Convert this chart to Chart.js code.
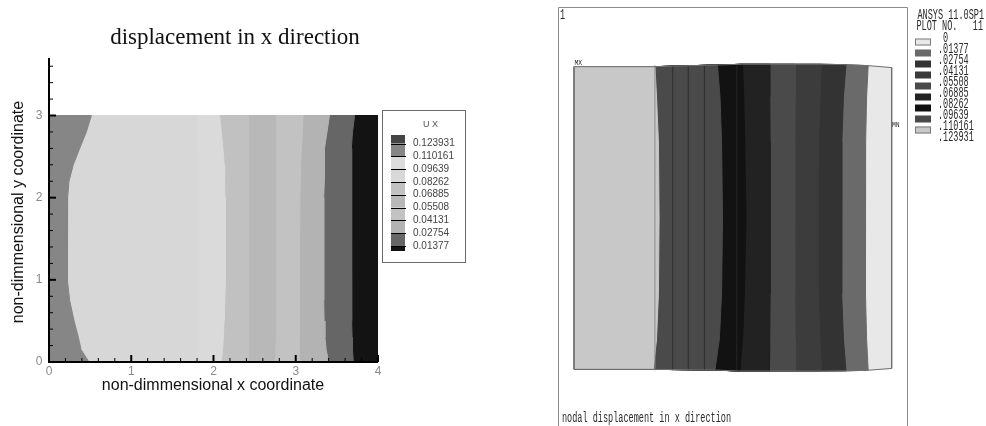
<!DOCTYPE html>
<html>
<head>
<meta charset="utf-8">
<script src="https://cdn.jsdelivr.net/npm/chart.js@4.4.0/dist/chart.umd.min.js"></script>
<style>
  html, body { margin: 0; padding: 0; background: #fff; }
  #wrap { position: relative; width: 986px; height: 426px; overflow: hidden; }
  canvas { position: absolute; top: 0; }
  #leftChart { left: 0; }
  #rightChart { left: 540px; }
</style>
</head>
<body>
<div id="wrap">
  <canvas id="leftChart" width="540" height="426"></canvas>
  <canvas id="rightChart" width="446" height="426"></canvas>
</div>
<script>
// ---------- left plot: contour of ux ----------
const leftTitle = 'displacement in x direction';
const xAxisTitle = 'non-dimmensional x coordinate';
const yAxisTitle = 'non-dimmensional y coordinate';
const xTickLabels = [0, 1, 2, 3, 4];
const yTickLabels = [0, 1, 2, 3];

// y levels where the contour edges are sampled
const yLevels = [0, 0.15, 0.3, 0.5, 0.75, 1, 1.5, 2, 2.2, 2.4, 2.6, 2.8, 3];
// x position of each contour edge at those levels (left to right)
const edge0 = [0, 0, 0, 0, 0, 0, 0, 0, 0, 0, 0, 0, 0];
const edge1 = [0.486, 0.39, 0.357, 0.305, 0.251, 0.225, 0.222, 0.227, 0.243, 0.295, 0.373, 0.454, 0.515];
const edge2 = [1.80, 1.80, 1.80, 1.81, 1.81, 1.81, 1.81, 1.81, 1.80, 1.80, 1.79, 1.79, 1.79];
const edge3 = [2.095, 2.11, 2.12, 2.128, 2.138, 2.144, 2.145, 2.14, 2.135, 2.13, 2.115, 2.095, 2.075];
const edge4 = [2.42, 2.42, 2.425, 2.43, 2.43, 2.43, 2.43, 2.43, 2.43, 2.43, 2.425, 2.42, 2.42];
const edge5 = [2.74, 2.745, 2.75, 2.755, 2.755, 2.755, 2.755, 2.755, 2.755, 2.755, 2.755, 2.755, 2.756];
const edge6 = [3.04, 3.04, 3.04, 3.04, 3.04, 3.04, 3.045, 3.05, 3.055, 3.06, 3.07, 3.08, 3.088];
const edge7 = [3.40, 3.37, 3.355, 3.345, 3.34, 3.34, 3.34, 3.34, 3.345, 3.35, 3.35, 3.38, 3.41];
const edge8 = [3.70, 3.69, 3.685, 3.68, 3.68, 3.68, 3.68, 3.68, 3.68, 3.68, 3.676, 3.69, 3.716];
const edge9 = [4, 4, 4, 4, 4, 4, 4, 4, 4, 4, 4, 4, 4];
const bandColors = ['#868686', '#d7d7d7', '#dadada', '#c1c1c1', '#b8b8b8', '#c2c2c2', '#b3b3b3', '#666666', '#131313'];

// legend of the left plot (top to bottom)
const uxTitle = 'U X';
const uxLevels = ['0.123931', '0.110161', '0.09639', '0.08262', '0.06885', '0.05508', '0.04131', '0.02754', '0.01377'];
const uxColors = ['#444444', '#868686', '#dcdcdc', '#d8d8d8', '#c1c1c1', '#b8b8b8', '#c2c2c2', '#b3b3b3', '#666666', '#131313'];

// ---------- right plot: ANSYS nodal solution ----------
const ansysHeader = ['ANSYS 11.0SP1', 'PLOT NO.   11'];
const ansysCaption = 'nodal displacement in x direction';
const ansysWindow = '1';
const rLevels = ['0', '.01377', '.02754', '.04131', '.05508', '.06885', '.08262', '.09639', '.110161', '.123931'];
const rLegendColors = ['#e8e8e8', '#6a6a6a', '#333333', '#3a3a3a', '#4a4a4a', '#222222', '#111111', '#4a4a4a', '#c8c8c8'];

const rYLevels = [0, 0.1, 0.25, 0.5, 0.75, 0.9, 1];
const rEdge0 = [0, 0, 0, 0, 0, 0, 0];
const rEdge1 = [0.249, 0.259, 0.265, 0.267, 0.265, 0.259, 0.254];
const rEdge2 = [0.443, 0.457, 0.464, 0.467, 0.464, 0.459, 0.451];
const rEdge3 = [0.522, 0.530, 0.536, 0.541, 0.537, 0.534, 0.530];
const rEdge4 = [0.615, 0.616, 0.617, 0.617, 0.617, 0.616, 0.615];
const rEdge5 = [0.697, 0.696, 0.695, 0.694, 0.695, 0.696, 0.696];
const rEdge6 = [0.779, 0.774, 0.770, 0.768, 0.770, 0.774, 0.779];
const rEdge7 = [0.856, 0.848, 0.843, 0.842, 0.843, 0.848, 0.856];
const rEdge8 = [0.926, 0.921, 0.918, 0.917, 0.918, 0.921, 0.926];
const rEdge9 = [1, 1, 1, 1, 1, 1, 1];
// mesh is slightly deformed: top / bottom y of every edge
const rTop = [1.0, 1.0, 1.0056, 1.0079, 1.0079, 1.0079, 1.0079, 1.0066, 1.0033, 0.997];
const rBottom = [0, 0, -0.0023, -0.0056, -0.0056, -0.0056, -0.0056, -0.005, -0.003, 0.003];
const rBandColors = ['#c8c8c8', '#4a4a4a', '#121212', '#222222', '#4a4a4a', '#3c3c3c', '#333333', '#6a6a6a', '#e8e8e8'];
// element lines visible inside the bands
const rElemX = [0.254, 0.310, 0.359, 0.410, 0.512];
const rElemColors = ['#8a8a8a', '#2e2e2e', '#2e2e2e', '#2e2e2e', '#262626'];

// polygon covering everything from edge 0 to edge k
function coverPolygon(edges, k, yAt) {
    const n = edges[0].length;
    const pts = [];
    for (let i = 0; i < n; i++) pts.push({ x: edges[0][i], y: yAt(0, i) });
    for (let j = 1; j < k; j++) pts.push({ x: edges[j][n - 1], y: yAt(j, n - 1) });
    for (let i = n - 1; i >= 0; i--) pts.push({ x: edges[k][i], y: yAt(k, i) });
    for (let j = k - 1; j >= 1; j--) pts.push({ x: edges[j][0], y: yAt(j, 0) });
    return pts;
}

function bandSet(data, color) {
    return {
        data: data,
        showLine: true,
        fill: 'shape',
        backgroundColor: color,
        borderColor: color,
        borderWidth: 1,
        pointRadius: 0,
        tension: 0
    };
}

// left datasets: the first one is drawn on top
const leftEdges = [edge0, edge1, edge2, edge3, edge4, edge5, edge6, edge7, edge8, edge9];
const leftSets = [];
for (let k = 1; k < leftEdges.length; k++) {
    leftSets.push(bandSet(coverPolygon(leftEdges, k, (j, i) => yLevels[i]), bandColors[k - 1]));
}

// right datasets
const rEdges = [rEdge0, rEdge1, rEdge2, rEdge3, rEdge4, rEdge5, rEdge6, rEdge7, rEdge8, rEdge9];
const rYAt = (j, i) => i === 0 ? rBottom[j] : (i === rYLevels.length - 1 ? rTop[j] : rYLevels[i]);
const rightSets = [];
rightSets.push({
    data: coverPolygon(rEdges, rEdges.length - 1, rYAt).concat([{ x: rEdge0[0], y: rBottom[0] }]),
    showLine: true, fill: false, borderColor: '#6e6e6e', borderWidth: 1, pointRadius: 0
});
rElemX.forEach((ex, i) => {
    rightSets.push({
        data: [{ x: ex, y: -0.003 }, { x: ex, y: 1.004 }],
        showLine: true, fill: false, borderColor: rElemColors[i], borderWidth: 1, pointRadius: 0
    });
});
for (let k = 1; k < rEdges.length; k++) {
    rightSets.push(bandSet(coverPolygon(rEdges, k, rYAt), rBandColors[k - 1]));
}

// ---------- decorations ----------
const leftDecor = {
    id: 'leftDecor',
    afterDatasetsDraw(chart) {
        const { ctx, chartArea: a, scales: { x, y } } = chart;
        ctx.save();
        // axis lines
        ctx.strokeStyle = '#000';
        ctx.lineWidth = 2;
        ctx.beginPath();
        ctx.moveTo(a.left, a.top);
        ctx.lineTo(a.left, a.bottom);
        ctx.lineTo(a.right, a.bottom);
        ctx.stroke();
        // inward ticks, minor every 0.2
        for (let i = 0; i * 0.2 <= x.max + 1e-9; i++) {
            const major = i % 5 === 0;
            const px = x.getPixelForValue(i * 0.2);
            ctx.lineWidth = major ? 2 : 1;
            ctx.beginPath();
            ctx.moveTo(px, a.bottom);
            ctx.lineTo(px, a.bottom - (major ? 7 : 4));
            ctx.stroke();
        }
        for (let i = 0; i * 0.2 <= y.max + 1e-9; i++) {
            const major = i % 5 === 0;
            const py = y.getPixelForValue(i * 0.2);
            ctx.lineWidth = major ? 2 : 1;
            ctx.beginPath();
            ctx.moveTo(a.left, py);
            ctx.lineTo(a.left + (major ? 7 : 4), py);
            ctx.stroke();
        }
        // tick labels
        ctx.fillStyle = '#8a8a8a';
        ctx.font = '12px "Liberation Sans"';
        ctx.textAlign = 'center';
        ctx.textBaseline = 'middle';
        xTickLabels.forEach(v => ctx.fillText(String(v), x.getPixelForValue(v), a.bottom + 10));
        yTickLabels.forEach(v => ctx.fillText(String(v), a.left - 10, y.getPixelForValue(v)));
        // titles
        ctx.fillStyle = '#111';
        ctx.font = '23px "Liberation Serif"';
        ctx.fillText(leftTitle, 235, 38);
        ctx.font = '16px "Liberation Sans"';
        ctx.fillText(xAxisTitle, 213, 386);
        ctx.save();
        ctx.translate(19, 212);
        ctx.rotate(-Math.PI / 2);
        ctx.fillText(yAxisTitle, 0, 0);
        ctx.restore();
        // legend box
        ctx.strokeStyle = '#6a6a6a';
        ctx.lineWidth = 1;
        ctx.strokeRect(382.5, 110.5, 83, 152);
        ctx.fillStyle = '#555';
        ctx.font = '9px "Liberation Sans"';
        ctx.fillText(uxTitle, 430.5, 125);
        const ly = uxLevels.map((_, i) => 143.5 + i * 12.8);
        const segs = [135].concat(ly, [251]);
        for (let i = 0; i < uxColors.length; i++) {
            ctx.fillStyle = uxColors[i];
            ctx.fillRect(391, segs[i], 14, segs[i + 1] - segs[i]);
        }
        ctx.strokeStyle = '#000';
        ctx.beginPath();
        ly.forEach(v => { ctx.moveTo(391, Math.round(v) + 0.5); ctx.lineTo(406, Math.round(v) + 0.5); });
        ctx.stroke();
        ctx.fillStyle = '#444';
        ctx.font = '10px "Liberation Sans"';
        ctx.textAlign = 'left';
        uxLevels.forEach((t, i) => ctx.fillText(t, 413, ly[i]));
        ctx.restore();
    }
};

function monoText(ctx, text, x, y, size, sx) {
    ctx.save();
    ctx.translate(x, y);
    ctx.scale(sx, 1);
    ctx.font = size + 'px "Liberation Mono"';
    ctx.textAlign = 'left';
    ctx.textBaseline = 'middle';
    ctx.fillText(text, 0, 0);
    ctx.restore();
}

const rightDecor = {
    id: 'rightDecor',
    afterDatasetsDraw(chart) {
        const ctx = chart.ctx;
        ctx.save();
        ctx.strokeStyle = '#8c8c8c';
        ctx.lineWidth = 1;
        ctx.beginPath();
        ctx.moveTo(18.5, 426);
        ctx.lineTo(18.5, 7.5);
        ctx.lineTo(367.5, 7.5);
        ctx.lineTo(367.5, 426);
        ctx.stroke();
        ctx.fillStyle = '#2a2a2a';
        monoText(ctx, ansysWindow, 20, 15, 14, 0.61);
        monoText(ctx, ansysCaption, 22, 418.5, 14, 0.61);
        monoText(ctx, 'MX', 34.5, 62.5, 8, 0.8);
        monoText(ctx, 'MN', 352, 125, 8, 0.8);
        monoText(ctx, ansysHeader[0], 377.5, 15, 14, 0.61);
        monoText(ctx, ansysHeader[1], 376.5, 26.7, 14, 0.61);
        rLevels.forEach((t, i) => monoText(ctx, t.padStart(2), 398, 38 + i * 11, 14, 0.61));
        rLegendColors.forEach((c, i) => {
            const top = 38.5 + i * 11;
            ctx.fillStyle = c;
            ctx.fillRect(375, top, 16, 7);
            if (i === 0 || i === rLegendColors.length - 1) {
                ctx.strokeStyle = '#7a7a7a';
                ctx.strokeRect(375.5, top + 0.5, 15, 6);
            }
        });
        ctx.restore();
    }
};

const baseOptions = {
    responsive: false,
    animation: false,
    events: [],
    plugins: { legend: { display: false }, tooltip: { enabled: false } }
};

new Chart(document.getElementById('leftChart'), {
    type: 'scatter',
    data: { datasets: leftSets },
    options: Object.assign({}, baseOptions, {
        layout: { padding: { left: 49, top: 58, right: 162, bottom: 64 } },
        scales: {
            x: { type: 'linear', display: false, min: 0, max: 4 },
            y: { type: 'linear', display: false, min: 0, max: 3.7 }
        }
    }),
    plugins: [leftDecor]
});

new Chart(document.getElementById('rightChart'), {
    type: 'scatter',
    data: { datasets: rightSets },
    options: Object.assign({}, baseOptions, {
        layout: { padding: { left: 28, top: 60, right: 88, bottom: 50 } },
        scales: {
            x: { type: 'linear', display: false, min: -0.02, max: 1.02 },
            y: { type: 'linear', display: false, min: -0.022, max: 1.022 }
        }
    }),
    plugins: [rightDecor]
});
</script>
</body>
</html>
